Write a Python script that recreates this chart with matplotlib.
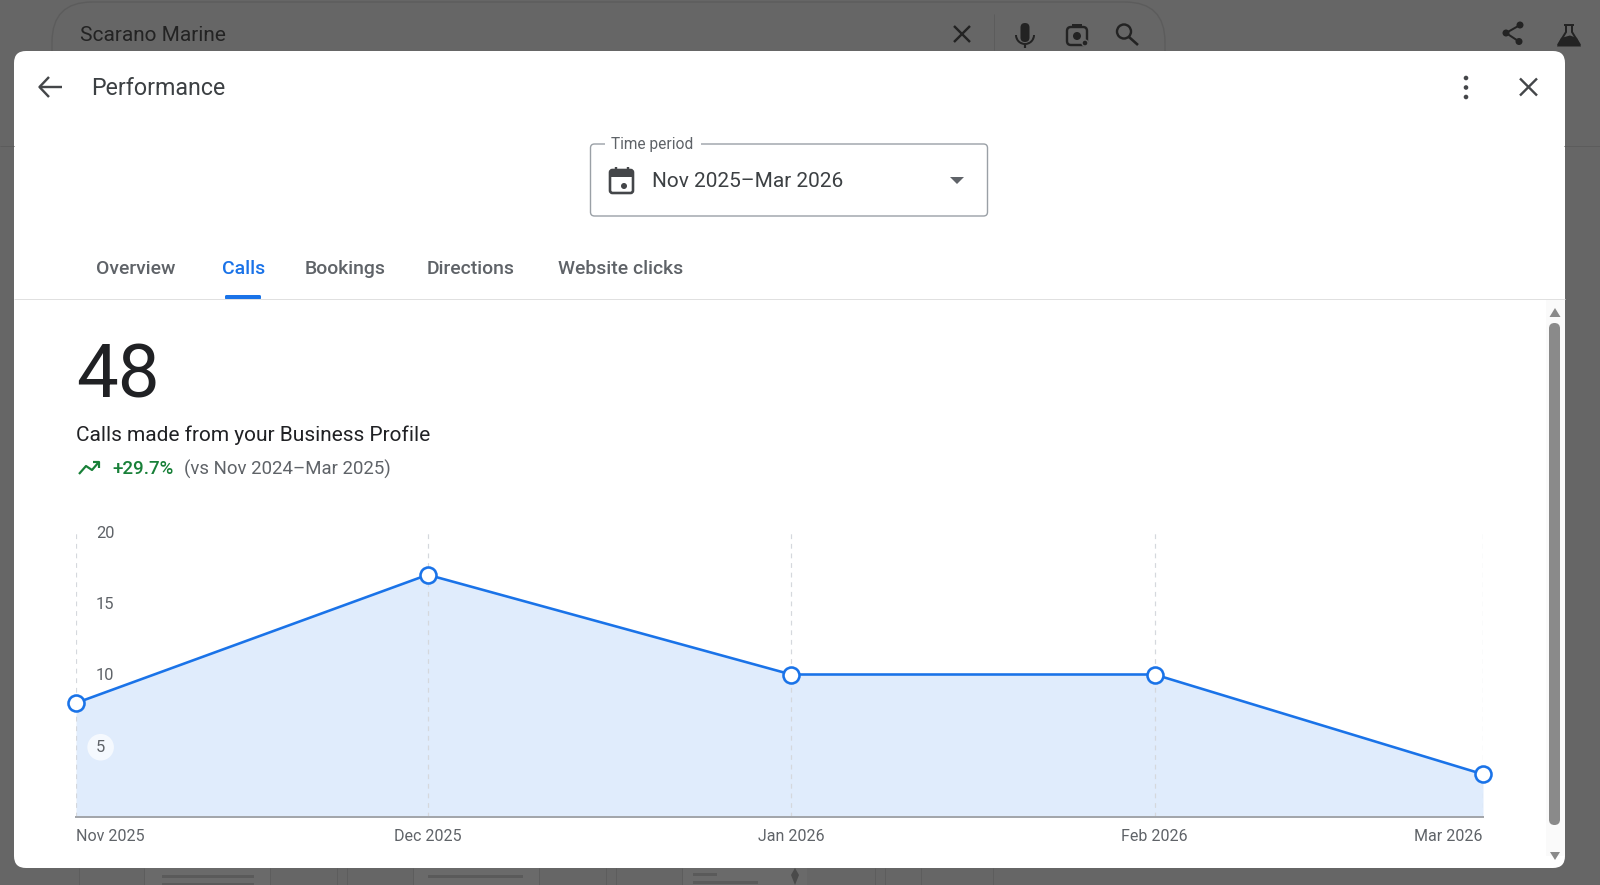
"""Business Profile performance panel, calls per month."""

import pandas as pd
import matplotlib
matplotlib.use("Agg")
import matplotlib.pyplot as plt
from matplotlib.patches import Circle, FancyBboxPatch, Polygon, Rectangle, Wedge

plt.rcParams["font.family"] = ["Roboto", "DejaVu Sans"]

months = ["2025-11-01", "2025-12-01", "2026-01-01", "2026-02-01", "2026-03-01"]
month_labels = ["Nov 2025", "Dec 2025", "Jan 2026", "Feb 2026", "Mar 2026"]
calls = [8, 17, 10, 10, 3]
y_ticks = [5, 10, 15, 20]
tab_names = ["Overview", "Calls", "Bookings", "Directions", "Website clicks"]
tab_x = [96, 222, 305, 427, 558]

W, H = 1600, 885
BLUE = "#1a73e8"
GREY_TEXT = "#5f6368"
DIM = "#666666"
ICON_DARK = "#232323"
ICON = "#444649"


def px(size):
    # css pixels to points at dpi 100
    return size * 0.72


fig = plt.figure(figsize=(W / 100, H / 100), dpi=100, facecolor=DIM)

# everything that is not the chart goes on a pixel canvas
ui = fig.add_axes([0, 0, 1, 1], zorder=0)
ui.set_xlim(0, W)
ui.set_ylim(H, 0)
ui.axis("off")


def label(x, y, s, size, color, **kw):
    ui.text(x, y, s, fontsize=px(size), color=color, va="baseline", **kw)


def seg(xs, ys, color, width=2.4, **kw):
    ui.plot(xs, ys, color=color, lw=px(width), solid_capstyle=kw.pop("cap", "butt"), **kw)


def cross(cx, cy, r, color):
    seg([cx - r, cx + r], [cy - r, cy + r], color, 2.4)
    seg([cx - r, cx + r], [cy + r, cy - r], color, 2.4)


def box(x, y, w, h, r, **kw):
    ui.add_patch(FancyBboxPatch((x, y), w, h, boxstyle=f"round,pad=0,rounding_size={r}", **kw))


# page behind the dialog
box(52, 2, 1113, 100, 40, fc="none", ec="#5c5c5c", lw=1)
label(79.5, 41, "Scarano Marine", 20.9, ICON_DARK)
cross(962, 34, 8, ICON_DARK)
seg([994, 994], [14, 50], "#5c5c5c", 1)

# mic
box(1020.5, 23, 9, 19, 4.5, fc=ICON_DARK, ec="none")
ui.add_patch(Wedge((1025, 35), 10, 0, 180, width=2, fc=ICON_DARK, ec="none"))
seg([1025, 1025], [45, 48], ICON_DARK, 2.2)
# lens
box(1067, 27, 20, 18, 4, fc="none", ec=ICON_DARK, lw=px(2.4))
ui.add_patch(Circle((1077, 36), 4, fc=ICON_DARK, ec="none"))
ui.add_patch(Circle((1085, 43), 3, fc=ICON_DARK, ec=DIM, lw=1))
ui.add_patch(Rectangle((1072, 24), 10, 3, fc=ICON_DARK, ec="none"))
# magnifier
ui.add_patch(Circle((1124, 31.5), 7, fc="none", ec=ICON_DARK, lw=px(2.4)))
seg([1129, 1138], [37, 45], ICON_DARK, 2.6)

# share
seg([1520, 1506, 1519], [25, 33, 41.5], ICON_DARK, 2)
for cx, cy, r in [(1520, 25, 3.5), (1506, 33, 3.5), (1519, 41.5, 3.5)]:
    ui.add_patch(Circle((cx, cy), r, fc=ICON_DARK, ec="none"))
# flask
seg([1564, 1574], [24.5, 24.5], ICON_DARK, 2)
ui.add_patch(Polygon([(1566, 25), (1566, 32), (1558, 45), (1580, 45), (1572, 32), (1572, 25)],
                     closed=True, fc="none", ec=ICON_DARK, lw=px(2)))
ui.add_patch(Polygon([(1561, 38), (1570, 35.5), (1577, 38), (1581, 46.5), (1557, 46.5)],
                     closed=True, fc=ICON_DARK, ec="none"))

seg([0, 14], [146, 146], "#5c5c5c", 1)
seg([1564, W], [146, 146], "#5c5c5c", 1)

# scraps of the page at the bottom edge
for x in [79, 144, 270, 337, 347, 413, 539, 606, 616, 682, 875, 885, 921, 993]:
    seg([x, x], [868, H], "#5d5d5d", 1)
for x, w in [(144, 126), (413, 126), (682, 125)]:
    ui.add_patch(Rectangle((x, 868), w, 17, fc="#6a6a6a", ec="none"))
for x, w, y in [(162, 92, 875), (428, 95, 875), (693, 24, 873), (693, 65, 881), (162, 92, 883)]:
    ui.add_patch(Rectangle((x, y), w, 3, fc="#5a5a5a", ec="none"))
ui.add_patch(Polygon([(795, 868), (799, 875), (795, 885), (791, 875)], closed=True, fc="#4a4a4a", ec="none"))

# dialog
box(14, 51, 1551, 817, 12, fc="white", ec="none")

seg([40, 62], [87, 87], ICON, 2.4)
seg([49, 39.5, 49], [77, 87, 97], ICON, 2.4)
label(91.5, 95, "Performance", 23.3, "#3c4043")
for y in [78, 87.5, 97]:
    ui.add_patch(Circle((1466, y), 2.3, fc=ICON, ec="none"))
cross(1528.5, 87, 8.5, ICON)

# time period field
box(590.5, 144, 397, 72, 4, fc="white", ec="#9aa0a6", lw=1)
ui.add_patch(Rectangle((605, 140), 95.5, 8, fc="white", ec="none"))
label(611, 149, "Time period", 15.5, GREY_TEXT)
label(652, 187, "Nov 2025–Mar 2026", 20.9, "#3c4043")
box(610, 170, 23, 23, 2.5, fc="white", ec=ICON, lw=px(2.6))
ui.add_patch(Rectangle((610, 170), 23, 6.5, fc=ICON, ec="none"))
seg([615.5, 615.5], [167, 172], ICON, 2.4)
seg([627.5, 627.5], [167, 172], ICON, 2.4)
ui.add_patch(Circle((624, 186), 3, fc=ICON, ec="none"))
ui.add_patch(Polygon([(950, 177), (964, 177), (957, 184)], closed=True, fc=GREY_TEXT, ec="none"))

# tabs
for name, x in zip(tab_names, tab_x):
    label(x, 274, name, 19.4, BLUE if name == "Calls" else GREY_TEXT, weight="medium")
box(225, 295, 36, 4.5, 1.5, fc=BLUE, ec="none")
seg([14, 1565], [299, 299], "#e0e0e0", 1)

# scrollbar
ui.add_patch(Rectangle((1546, 300), 19, 556, fc="#fafafa", ec="none"))
box(1549, 323, 11, 502, 5.5, fc="#8a8a8a", ec="none")
ui.add_patch(Polygon([(1549.5, 317), (1560.5, 317), (1555, 308)], closed=True, fc="#8a8a8a", ec="none"))
ui.add_patch(Polygon([(1550, 852), (1560, 852), (1555, 860)], closed=True, fc="#8a8a8a", ec="none"))

# headline
label(76, 397, "48", 74.5, "#202124")
label(76, 441, "Calls made from your Business Profile", 20.9, "#202124")
seg([79, 86, 92, 98], [474, 466, 470, 463], "#188038", 2.2)
seg([93, 99, 99], [462, 462, 468], "#188038", 2.2)
label(112, 474.5, "+29.7%", 18.8, "#188038", weight="medium")
label(183.5, 474.5, "(vs Nov 2024–Mar 2025)", 18.6, GREY_TEXT)

# chart
x = pd.to_datetime(months)
ax = fig.add_axes([76 / W, (H - 817) / H, 1407 / W, 285 / H], zorder=1)
ax.patch.set_alpha(0)
ax.fill_between(x, calls, 0, color="#e0ecfc", lw=0, zorder=1)
ax.plot(x, calls, color=BLUE, lw=px(2.6), marker="o", ms=px(16), mfc="white", mec=BLUE,
        mew=px(2.6), clip_on=False, zorder=2)
ax.set_xlim(x[0], x[-1])
ax.set_ylim(0, 20)

for side in ["top", "left", "right"]:
    ax.spines[side].set_visible(False)
ax.spines["bottom"].set_color("#a3a6ab")
ax.spines["bottom"].set_linewidth(px(2))

ax.set_xticks(x)
ax.set_xticklabels(month_labels)
ax.set_yticks(y_ticks)
ax.grid(axis="x", color="#d5d8dd", lw=px(1.2), ls=(0, (4, 4)))
ax.tick_params(axis="x", length=0, pad=px(12), labelsize=px(16), labelcolor=GREY_TEXT)
ax.tick_params(axis="y", length=0, pad=-px(20), labelsize=px(16.5), labelcolor=GREY_TEXT)
for tick in ax.get_yticklabels():
    tick.set_ha("left")
    tick.set_bbox(dict(boxstyle="circle,pad=0.35", fc="white", ec="none", alpha=0.7))
ax.get_xticklabels()[0].set_ha("left")
ax.get_xticklabels()[-1].set_ha("right")

fig.savefig("out.png", dpi=100, facecolor=DIM)
